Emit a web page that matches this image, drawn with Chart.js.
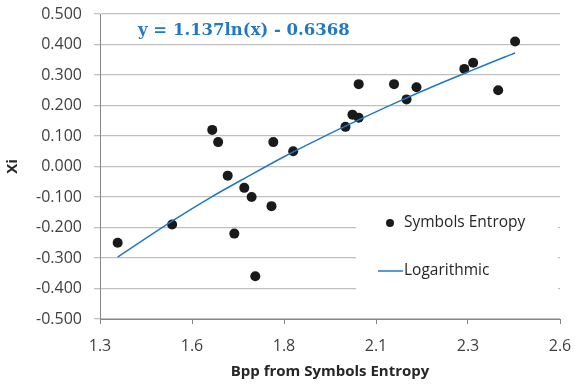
<!DOCTYPE html>
<html>
<head>
<meta charset="utf-8">
<script src="https://cdn.jsdelivr.net/npm/chart.js@4.4.1/dist/chart.umd.min.js"></script>
<style>
html,body{margin:0;padding:0;background:#fff;}
#wrap{width:575px;height:385px;position:relative;}
</style>
</head>
<body>
<div id="wrap"><canvas id="c" width="575" height="385"></canvas></div>
<script>
// Symbols Entropy data
const bppValues = [1.348, 1.496, 1.605, 1.621, 1.647, 1.665, 1.692, 1.712, 1.722, 1.766, 1.771, 1.825, 1.967, 1.986, 2.003, 2.003, 2.099, 2.133, 2.160, 2.290, 2.314, 2.382, 2.428];
const xiValues  = [-0.25, -0.19, 0.12, 0.08, -0.03, -0.22, -0.07, -0.10, -0.36, -0.13, 0.08, 0.05, 0.13, 0.17, 0.16, 0.27, 0.27, 0.22, 0.26, 0.32, 0.34, 0.25, 0.41];
// Logarithmic trendline
const trendX = [1.348, 1.5, 1.6, 1.7, 1.8, 1.9, 2.0, 2.1, 2.2, 2.3, 2.4, 2.428];
const trendY = [-0.297, -0.176, -0.102, -0.034, 0.032, 0.093, 0.151, 0.207, 0.260, 0.310, 0.359, 0.372];
// Tick labels
const xTickLabels = ["1.3", "1.6", "1.8", "2.1", "2.3", "2.6"];
const equationText = "y = 1.137ln(x) - 0.6368";
const seriesNames = ["Symbols Entropy", "Logarithmic"];

const FONT = "'Open Sans', sans-serif";
const BLUE = '#2178c4';

const overlay = {
  id: 'overlay',
  beforeDatasetsDraw(chart) {
    const ctx = chart.ctx;
    ctx.save();
    ctx.fillStyle = '#ffffff';
    ctx.fillRect(356, 205, 202, 97);
    ctx.restore();
  },
  afterDraw(chart) {
    const ctx = chart.ctx;
    ctx.save();
    // equation
    ctx.fillStyle = BLUE;
    ctx.font = "bold 16.5px 'DejaVu Serif', serif";
    ctx.textBaseline = 'middle';
    ctx.textAlign = 'left';
    ctx.fillText(equationText, 138, 31);
    // legend
    ctx.fillStyle = '#1a1a1a';
    ctx.beginPath();
    ctx.arc(390, 223, 4, 0, Math.PI * 2);
    ctx.fill();
    ctx.strokeStyle = BLUE;
    ctx.lineWidth = 1.5;
    ctx.beginPath();
    ctx.moveTo(378, 271);
    ctx.lineTo(403, 271);
    ctx.stroke();
    ctx.fillStyle = '#262626';
    ctx.font = "15.5px " + FONT;
    ctx.fillText(seriesNames[0], 404, 223);
    ctx.fillText(seriesNames[1], 404, 271);
    ctx.restore();
  }
};

new Chart(document.getElementById('c'), {
  type: 'scatter',
  data: {
    datasets: [
      {
        label: seriesNames[1],
        data: trendX.map((x, i) => ({x: x, y: trendY[i]})),
        showLine: true,
        borderColor: BLUE,
        borderWidth: 1.5,
        pointRadius: 0,
        cubicInterpolationMode: 'monotone',
        order: 0
      },
      {
        label: seriesNames[0],
        data: bppValues.map((x, i) => ({x: x, y: xiValues[i]})),
        backgroundColor: '#1a1a1a',
        borderWidth: 0,
        pointRadius: 5,
        order: 1
      }
    ]
  },
  options: {
    responsive: false,
    animation: false,
    layout: {padding: {left: 0, right: 15, top: 14, bottom: 0}},
    plugins: {legend: {display: false}, tooltip: {enabled: false}},
    scales: {
      x: {
        type: 'linear',
        min: 1.3, max: 2.55,
        ticks: {
          stepSize: 0.25,
          autoSkip: false,
          maxRotation: 0,
          padding: 13,
          color: '#404040',
          font: {family: FONT, size: 16},
          callback: (v, i) => xTickLabels[i]
        },
        grid: {drawOnChartArea: false, drawTicks: true, tickLength: 5, color: '#868686'},
        border: {color: '#868686'},
        title: {display: true, text: 'Bpp from Symbols Entropy', color: '#262626',
                font: {family: FONT, size: 15, weight: 'bold'}, padding: {top: 2}},
        afterFit(s) { s.height = 66; s.paddingLeft = 0; s.paddingRight = 0; }
      },
      y: {
        min: -0.5, max: 0.5,
        ticks: {
          stepSize: 0.1,
          padding: 12,
          color: '#404040',
          font: {family: FONT, size: 16},
          callback: v => v.toFixed(3)
        },
        grid: {color: '#c0c0c0', tickLength: 6, lineWidth: 1.3},
        border: {color: '#868686'},
        title: {display: true, text: 'Xi', color: '#262626',
                font: {family: FONT, size: 15, weight: 'bold'}, padding: {bottom: 2}},
        afterFit(s) { s.width = 100; s.paddingTop = 0; s.paddingBottom = 0; }
      }
    }
  },
  plugins: [overlay]
});
</script>
</body>
</html>
